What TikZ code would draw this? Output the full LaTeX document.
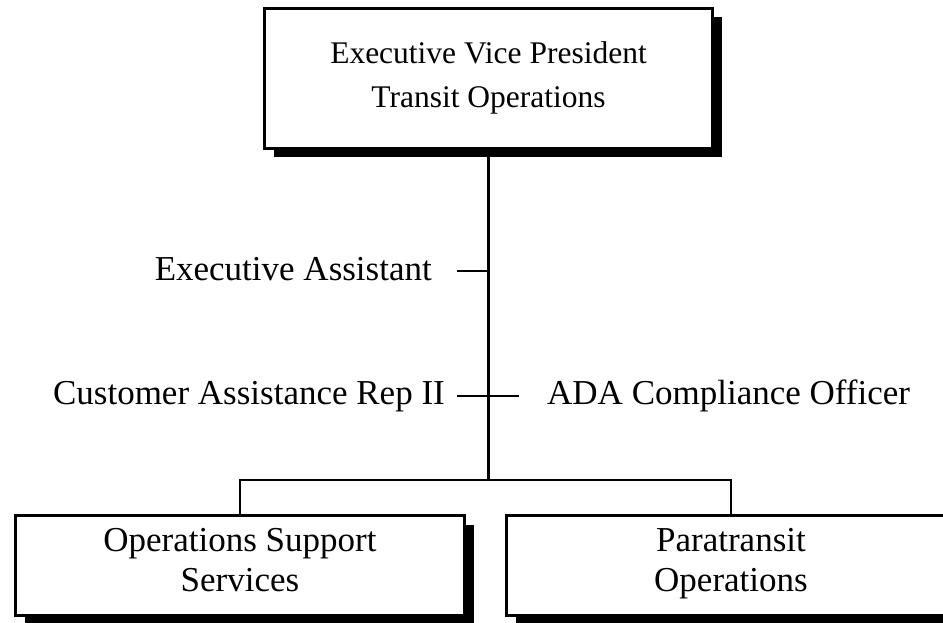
\documentclass[tikz,border=0pt]{standalone}
\usepackage{fontspec}
\setmainfont{Liberation Serif}
\usetikzlibrary{shadows}

\begin{document}
\begin{tikzpicture}[x=1pt, y=-1pt,
    office/.style={draw, line width=2.7pt, fill=white, inner sep=0pt, align=center,
        drop shadow={shadow xshift=9pt, shadow yshift=-9pt, fill=black, opacity=1}},
    staff/.style={inner sep=0pt, font=\fontsize{35}{40}\selectfont},
    trunk/.style={line width=2.5pt},
    link/.style={line width=2pt}]
    \useasboundingbox (0,0) rectangle (943,623);

    % Executive Vice President
    \node (evp) at (488.5,78.3) [office, minimum width=448pt, minimum height=140pt,
        text depth=8pt, font=\fontsize{31.5}{44}\selectfont]
        {Executive Vice President\\Transit Operations};

    % Staff positions
    \node (asst) at (432,280) [staff, anchor=base east] {Executive Assistant};
    \node (car) at (445,404) [staff, anchor=base east] {Customer Assistance Rep II};
    \node (ada) at (547,404) [staff, anchor=base west] {ADA Compliance Officer};

    % Divisions
    \node (oss) at (240,565.5) [office, minimum width=449pt, minimum height=100pt,
        text depth=12pt, font=\fontsize{35}{40}\selectfont]
        {Operations Support\\Services};
    \node (para) at (731,565.5) [office, minimum width=449pt, minimum height=100pt,
        text depth=12pt, font=\fontsize{35}{40}\selectfont]
        {Paratransit\\Operations};

    % Main line
    \coordinate (fork) at (evp.south |- 0,480);
    \coordinate (eatick) at (evp.south |- 0,271);
    \coordinate (cartick) at (evp.south |- 0,396);
    \draw [trunk] (evp.south) -- (fork);
    \draw [trunk, shorten >=25pt] (eatick) -- (eatick -| asst.east);
    \draw [trunk, shorten <=12pt, shorten >=28pt] (cartick -| car.east) -- (cartick -| ada.west);
    \draw [link] (oss.north) |- (fork) -| (para.north);
\end{tikzpicture}
\end{document}
